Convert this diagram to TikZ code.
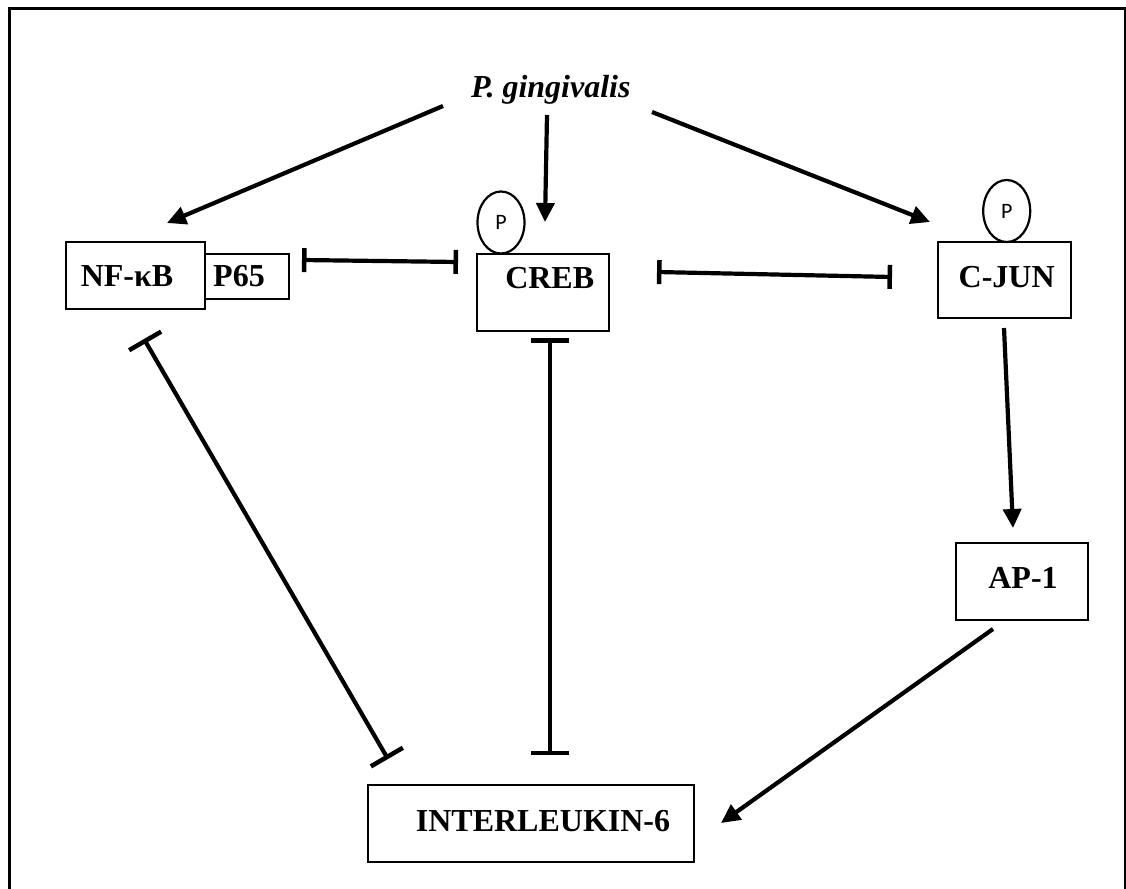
\documentclass[tikz,border=0pt]{standalone}
\usepackage{fontspec}
\setmainfont{Liberation Serif}
\newfontfamily\pfont{Carlito}
\usetikzlibrary{arrows.meta,shapes.geometric}
\tikzset{
  box/.style={draw, line width=2.8pt, rectangle, inner sep=0pt},
  lbl/.style={font=\fontsize{32}{36}\selectfont\bfseries, anchor=base, inner sep=0pt},
  phos/.style={draw, line width=2.2pt, ellipse, inner sep=0pt, minimum width=47pt, minimum height=62pt, font=\pfont\fontsize{22}{26}\selectfont},
  act/.style={line width=4.2pt, -{Triangle[length=19pt,width=18pt]}},
  inh/.style={line width=4.2pt, {Bar[width=#1,line width=4.5pt]}-{Bar[width=#1,line width=4.5pt]}},
  inh/.default=24pt
}
\begin{document}
\begin{tikzpicture}[x=1pt,y=-1pt]
\useasboundingbox (0,0) rectangle (1126,888);
\draw[line width=2.8pt] (9.5,8.5) rectangle (1125,900);
% boxes
\node[box, minimum width=139pt, minimum height=67pt] (nf) at (135.5,275.5) {};
\node[box, minimum width=84pt, minimum height=45pt] (p65) at (247,276.5) {};
\node[box, minimum width=132pt, minimum height=77pt] (creb) at (543,292.5) {};
\node[box, minimum width=133pt, minimum height=76pt] (cjun) at (1004.5,280) {};
\node[box, minimum width=132pt, minimum height=77pt] (ap1) at (1022,581.5) {};
\node[box, minimum width=326pt, minimum height=77pt] (il6) at (531,823.5) {};
% labels
\node[lbl] (nft) at (127,286.7) {NF-κB};
\node[lbl] (p65t) at (239,286.7) {P65};
\node[lbl] (crebt) at (549.7,288.3) {CREB};
\node[lbl] (cjunt) at (1006.7,287.3) {C-JUN};
\node[lbl] (ap1t) at (1023,588.3) {AP-1};
\node[lbl] (il6t) at (543,831.7) {INTERLEUKIN-6};
\node[lbl, font=\fontsize{32}{36}\selectfont\bfseries\itshape] (pg) at (550.8,97.3) {P. gingivalis};
% phosphate groups
\node[phos] (pc) at (501,222.5) {P};
\node[phos] (pj) at (1006.7,211) {P};
% connector end points
\coordinate (pgL) at (443,106);
\coordinate (pgM) at (547,115);
\coordinate (pgR) at (652,112);
\coordinate (nfIn) at (167,223);
\coordinate (crebIn) at (545,222);
\coordinate (cjunIn) at (930,222);
\coordinate (cjunOut) at (1004,328);
\coordinate (ap1In) at (1013,528);
\coordinate (ap1Out) at (993,629);
\coordinate (il6In) at (721,823);
\coordinate (p65R) at (302,260);
\coordinate (crebL) at (458,262);
\coordinate (crebR) at (657,272);
\coordinate (cjunL) at (892,277);
\coordinate (nfB) at (144,339);
\coordinate (il6L) at (388,759);
\coordinate (crebB) at (550,338);
\coordinate (il6T) at (550,755);
% activations
\draw[act] (pgL) -- (nfIn);
\draw[act] (pgM) -- (crebIn);
\draw[act] (pgR) -- (cjunIn);
\draw[act] (cjunOut) -- (ap1In);
\draw[act] (ap1Out) -- (il6In);
% inhibitions
\draw[inh] (p65R) -- (crebL);
\draw[inh] (crebR) -- (cjunL);
\draw[inh=37pt] (nfB) -- (il6L);
\draw[inh=38pt] (crebB) -- (il6T);
\end{tikzpicture}
\end{document}
